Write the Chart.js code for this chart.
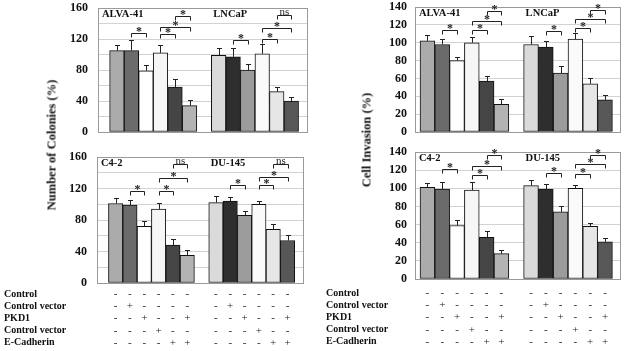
<!DOCTYPE html>
<html>
<head>
<meta charset="utf-8">
<script src="https://cdn.jsdelivr.net/npm/chart.js@4.4.1/dist/chart.umd.min.js"></script>
<style>
  body { margin: 0; background: #fff; }
  #wrap { position: relative; width: 626px; height: 351px; overflow: hidden; background: #fff; }
  canvas { position: absolute; }
  .ytitle {
    position: absolute; white-space: nowrap; color: #111;
    font: bold 12.5px "Liberation Serif", serif;
    transform: translate(-50%, -50%) rotate(-90deg);
  }
</style>
</head>
<body>
<div id="wrap">
  <canvas id="tl" width="313" height="140" style="left:0;top:0"></canvas>
  <canvas id="bl" width="313" height="201" style="left:0;top:150px"></canvas>
  <canvas id="tr" width="313" height="140" style="left:313px;top:0"></canvas>
  <canvas id="br" width="313" height="206" style="left:313px;top:145px"></canvas>
  <div class="ytitle" style="left:52px;top:145px">Number of Colonies (%)</div>
  <div class="ytitle" style="left:367px;top:140px">Cell Invasion (%)</div>
</div>
<script>
// ---- data ----
const rowNames = ["Control", "Control vector", "PKD1", "Control vector", "E-Cadherin"];
const signRows = [
  ["-", "-", "-", "-", "-", "-", "-", "-", "-", "-", "-", "-"],
  ["-", "+", "-", "-", "-", "-", "-", "+", "-", "-", "-", "-"],
  ["-", "-", "+", "-", "-", "+", "-", "-", "+", "-", "-", "+"],
  ["-", "-", "-", "+", "-", "-", "-", "-", "-", "+", "-", "-"],
  ["-", "-", "-", "-", "+", "+", "-", "-", "-", "-", "+", "+"]
];

// colony formation, ALVA-41 (bars 1-6) + LNCaP (bars 7-12)
const colonyTop = [105, 105, 79, 102, 58, 34, 99, 97, 80, 101, 52, 40];
const colonyTopErr = [7, 14, 7, 10, 10, 7, 9, 11, 8, 12, 6, 5];
const colonyTopSig = [[1, 2, 128, "*"], [3, 4, 127, "*"], [3, 5, 136, "*"], [4, 5, 150, "*"],
                      [7, 8, 119, "*"], [9, 10, 120, "*"], [9, 11, 134, "*"], [10, 11, 151, "ns"]];

// colony formation, C4-2 + DU-145
const colonyBottom = [101, 99, 72, 94, 48, 35, 102, 104, 86, 100, 68, 54];
const colonyBottomErr = [7, 7, 7, 8, 8, 7, 9, 5, 6, 4, 7, 7];
const colonyBottomSig = [[1, 2, 117, "*"], [3, 4, 117, "*"], [3, 5, 133, "*"], [4, 5, 151, "ns"],
                         [7, 8, 124, "*"], [9, 10, 124, "*"], [9, 11, 135, "*"], [10, 11, 151, "ns"]];

// invasion, ALVA-41 + LNCaP
const invasionTop = [102, 98, 80, 100, 57, 31, 98, 95, 66, 104, 54, 36];
const invasionTopErr = [7, 6, 4, 6, 6, 6, 9, 7, 8, 7, 6, 5];
const invasionTopSig = [[1, 2, 114, "*"], [3, 4, 114, "*"], [3, 5, 124, "*"], [4, 5, 135, "*"],
                        [7, 8, 113, "*"], [9, 10, 117, "*"], [9, 11, 127, "*"], [10, 11, 137, "*"]];

// invasion, C4-2 + DU-145
const invasionBottom = [101, 99, 59, 98, 46, 28, 103, 99, 74, 100, 58, 41];
const invasionBottomErr = [5, 8, 6, 9, 7, 4, 6, 6, 6, 4, 4, 4];
const invasionBottomSig = [[1, 2, 121, "*"], [3, 4, 115, "*"], [3, 5, 125, "*"], [4, 5, 137, "*"],
                           [7, 8, 117, "*"], [9, 10, 116, "*"], [9, 11, 127, "*"], [10, 11, 137, "*"]];

const barColors = ["#ababab", "#6b6b6b", "#ffffff", "#f6f6f6", "#454545", "#b3b3b3",
                   "#dadada", "#2e2e2e", "#9c9c9c", "#fafafa", "#e6e6e6", "#575757"];

const SERIF = '"Liberation Serif", "Times New Roman", serif';
const SIGN_LH = 11 * 1.11;

// slot for each bar, leaving an empty slot between the two cell lines
const slotOf = (i) => (i < 6 ? i : i + 1);

/* ==============================
   PANEL
============================== */
function makePanel(id, p) {
  const canvas = document.getElementById(id);
  const W = canvas.width, H = canvas.height;
  // wanted plot box, in canvas coords
  const want = {
    left: p.area.left - p.left, right: p.area.right - p.left,
    top: p.area.top - p.top, bottom: p.area.bottom - p.top
  };
  let yW = want.left;
  let xH = p.table ? H - want.bottom : 0;
  let signPad = 4;

  const box = (chart) => {
    const x = chart.scales.x, y = chart.scales.y;
    return {
      left: x.getPixelForValue(p.xMin), right: x.getPixelForValue(p.xMax),
      top: y.getPixelForValue(p.yMax), bottom: y.getPixelForValue(0)
    };
  };

  const drawExtras = {
    id: "drawExtras",
    afterDatasetsDraw(chart) {
      const ctx = chart.ctx, x = chart.scales.x, y = chart.scales.y, a = box(chart);
      ctx.save();

      // frame around the plot
      ctx.strokeStyle = "#9a9a9a";
      ctx.lineWidth = 1;
      ctx.strokeRect(Math.round(a.left) + 0.5, Math.round(a.top) + 0.5,
                     Math.round(a.right - a.left) - 1, Math.round(a.bottom - a.top));

      // error bars (upper half only)
      ctx.strokeStyle = "#222";
      p.values.forEach((v, i) => {
        const px = Math.round(x.getPixelForValue(slotOf(i))) + 0.5;
        const y0 = y.getPixelForValue(v);
        const y1 = Math.round(y.getPixelForValue(v + p.errs[i])) + 0.5;
        ctx.beginPath();
        ctx.moveTo(px, y0);
        ctx.lineTo(px, y1);
        ctx.moveTo(px - 2.5, y1);
        ctx.lineTo(px + 2.5, y1);
        ctx.stroke();
      });

      // significance brackets
      ctx.textAlign = "center";
      ctx.textBaseline = "alphabetic";
      ctx.fillStyle = "#222";
      p.sig.forEach(([i, j, v, lab]) => {
        const x0 = Math.round(x.getPixelForValue(slotOf(i))) + 0.5;
        const x1 = Math.round(x.getPixelForValue(slotOf(j))) + 0.5;
        const yy = Math.round(y.getPixelForValue(v)) + 0.5;
        ctx.beginPath();
        ctx.moveTo(x0, yy + 4);
        ctx.lineTo(x0, yy);
        ctx.lineTo(x1, yy);
        ctx.lineTo(x1, yy + 4);
        ctx.stroke();
        if (lab === "*") {
          ctx.font = "bold 12px " + SERIF;
          ctx.fillText(lab, (x0 + x1) / 2, yy + 1);
        } else {
          ctx.font = "11px " + SERIF;
          ctx.fillText(lab, (x0 + x1) / 2, yy - 1);
        }
      });

      // cell line names
      ctx.font = "bold 10.5px " + SERIF;
      ctx.textAlign = "left";
      ctx.textBaseline = "middle";
      ctx.fillStyle = "#111";
      ctx.fillText(p.cells[0], a.left + 4, a.top + 6);
      ctx.fillText(p.cells[1], x.getPixelForValue(6.5) + 2, a.top + 6);

      ctx.restore();
    },
    afterDraw(chart) {
      if (!p.table) return;
      const ctx = chart.ctx, x = chart.scales.x;
      ctx.save();
      ctx.font = "bold 10px " + SERIF;
      ctx.fillStyle = "#111";
      ctx.textAlign = "left";
      ctx.textBaseline = "middle";
      rowNames.forEach((name, r) => {
        ctx.fillText(name, p.table.labelX, x.top + signPad + SIGN_LH / 2 + r * SIGN_LH);
      });
      ctx.restore();
    }
  };

  const chart = new Chart(canvas.getContext("2d"), {
    type: "bar",
    data: {
      datasets: [{
        data: p.values.map((v, i) => ({ x: slotOf(i), y: v })),
        backgroundColor: barColors,
        borderColor: "#111",
        borderWidth: 1,
        borderSkipped: false,
        categoryPercentage: 1,
        barPercentage: 1
      }]
    },
    options: {
      responsive: false,
      animation: false,
      devicePixelRatio: 1,
      layout: {
        padding: {
          left: 0,
          top: want.top,
          right: W - want.right,
          bottom: p.table ? 0 : H - want.bottom
        }
      },
      plugins: { legend: { display: false }, tooltip: { enabled: false } },
      scales: {
        x: {
          type: "linear",
          offset: false,
          display: !!p.table,
          min: p.xMin,
          max: p.xMax,
          grid: { display: false, drawTicks: false },
          border: { display: false },
          afterBuildTicks: (s) => { s.ticks = p.values.map((v, i) => ({ value: slotOf(i) })); },
          afterFit: (s) => {
            if (p.table) s.height = xH;
            s.paddingLeft = 0;
            s.paddingRight = 0;
          },
          ticks: {
            autoSkip: false,
            maxRotation: 0,
            minRotation: 0,
            padding: signPad,
            color: "#222",
            font: { family: SERIF, size: 11, lineHeight: 1.11 },
            callback: (val, idx) => signRows.map((row) => row[idx])
          }
        },
        y: {
          min: 0,
          max: p.yMax,
          afterFit: (s) => {
            // the tick labels may hang over the plot edge; the layout padding covers it
            s.width = yW;
            s.paddingTop = 0;
            s.paddingBottom = 0;
          },
          grid: { color: "#d2d2d2", drawTicks: false },
          border: { display: false },
          ticks: {
            autoSkip: false,
            stepSize: 20,
            padding: p.tickPad,
            color: "#111",
            font: { family: SERIF, size: 12, weight: "bold" },
            callback: (v) => (v % p.labelEvery === 0 ? v : "")
          }
        }
      }
    },
    plugins: [drawExtras]
  });

  // nudge the layout until the plot box sits where the reference has it
  const cfg = chart.config.options;
  for (let k = 0; k < 4; k++) {
    const a = box(chart);
    const pad = cfg.layout.padding;
    yW += want.left - a.left;
    pad.top += want.top - a.top;
    pad.right += a.right - want.right;
    if (p.table) xH += a.bottom - want.bottom;
    else pad.bottom += a.bottom - want.bottom;
    if (p.table) {
      signPad = (p.table.firstRow - p.top) - chart.scales.x.top - SIGN_LH / 2;
      cfg.scales.x.ticks.padding = signPad;
    }
    chart.update();
  }
  return chart;
}

document.addEventListener("DOMContentLoaded", function () {
  makePanel("tl", {
    left: 0, top: 0, area: { left: 98, top: 8, right: 308, bottom: 132 },
    xMin: -1.3, xMax: 13.15, yMax: 160, labelEvery: 40, tickPad: 10,
    values: colonyTop, errs: colonyTopErr, sig: colonyTopSig, cells: ["ALVA-41", "LNCaP"]
  });
  makePanel("bl", {
    left: 0, top: 150, area: { left: 97, top: 157, right: 304, bottom: 283 },
    xMin: -1.3, xMax: 13.15, yMax: 160, labelEvery: 40, tickPad: 10,
    values: colonyBottom, errs: colonyBottomErr, sig: colonyBottomSig, cells: ["C4-2", "DU-145"],
    table: { firstRow: 294, labelX: 4 }
  });
  makePanel("tr", {
    left: 313, top: 0, area: { left: 415, top: 7, right: 621, bottom: 132 },
    xMin: -0.84, xMax: 13.08, yMax: 140, labelEvery: 20, tickPad: 8,
    values: invasionTop, errs: invasionTopErr, sig: invasionTopSig, cells: ["ALVA-41", "LNCaP"]
  });
  makePanel("br", {
    left: 313, top: 145, area: { left: 415, top: 152, right: 621, bottom: 279 },
    xMin: -0.84, xMax: 13.08, yMax: 140, labelEvery: 20, tickPad: 8,
    values: invasionBottom, errs: invasionBottomErr, sig: invasionBottomSig, cells: ["C4-2", "DU-145"],
    table: { firstRow: 293, labelX: 13 }
  });
});
</script>
</body>
</html>
